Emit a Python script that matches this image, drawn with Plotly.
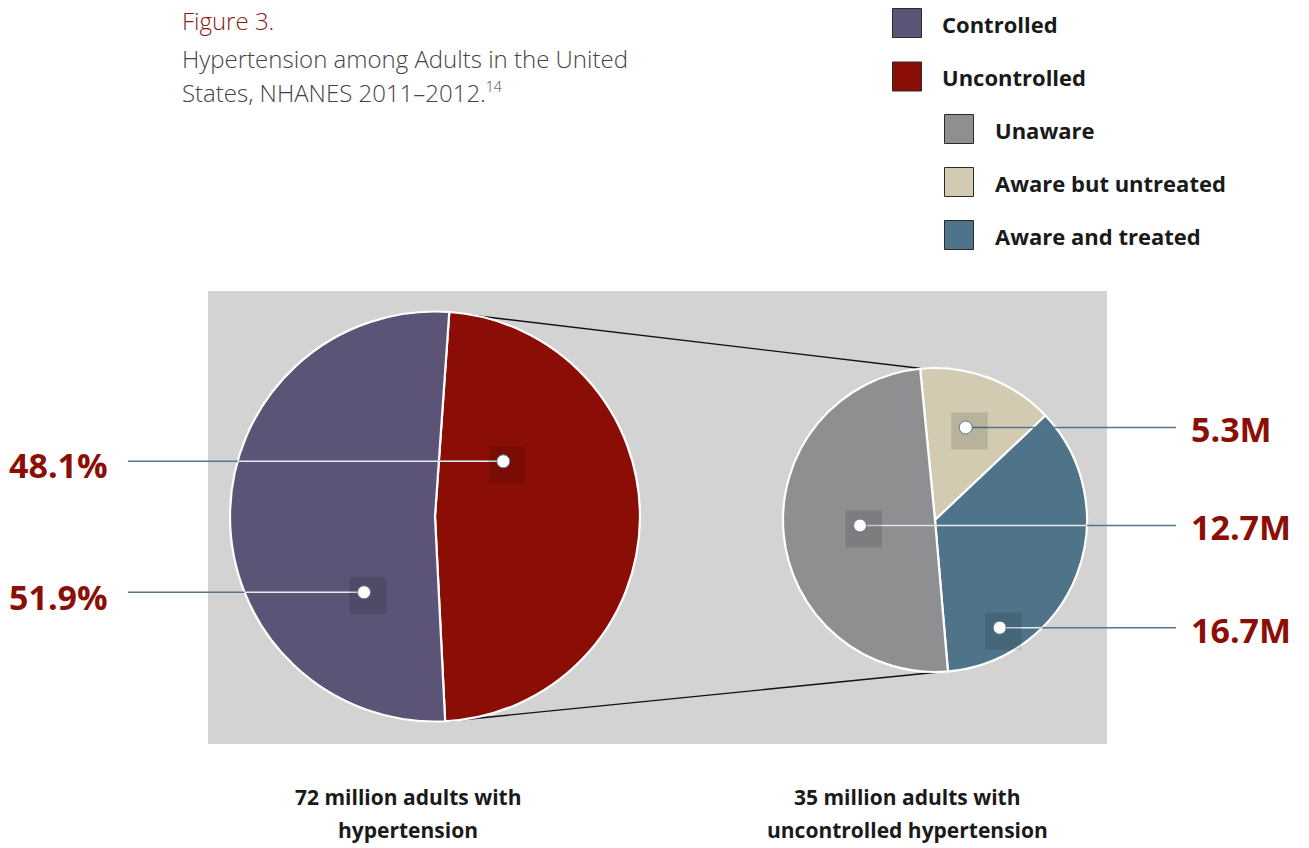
import math
import plotly.graph_objects as go

W, H = 1309, 848

# ---------------- data ----------------
main_categories = ["Uncontrolled", "Controlled"]
main_pct = [48.1, 51.9]
main_labels = ["48.1%", "51.9%"]

sub_categories = ["Aware but untreated", "Aware and treated", "Unaware"]
sub_millions = [5.3, 16.7, 12.7]
# slice sizes as they are drawn in the reference picture (percent of the circle)
sub_drawn_share = [14.5, 35.7, 49.8]

legend_items = ["Controlled", "Uncontrolled", "Unaware", "Aware but untreated", "Aware and treated"]
caption_left = ["72 million adults with", "hypertension"]
caption_right = ["35 million adults with", "uncontrolled hypertension"]
title_lines = ["Figure 3.", "Hypertension among Adults in the United",
               "States, NHANES 2011–2012.<sup><span style='font-size:14px'>14</span></sup>"]

# ---------------- styles ----------------
C_PURPLE = "#5c5477"
C_RED = "#8a0e05"
C_GREY = "#8f8e90"
C_BEIGE = "#d2cbb2"
C_BLUE = "#4f7389"
C_LEAD = "#557590"
C_LABEL = "#8b0f06"
C_BG = "#d3d3d3"
C_TEXT = "#1a1a1a"
FONT = "Open Sans"

main_colors = [C_RED, C_PURPLE]
sub_colors = [C_BEIGE, C_BLUE, C_GREY]
legend_colors = [C_PURPLE, C_RED, C_GREY, C_BEIGE, C_BLUE]


def X(px):
    return px / W


def Y(py):
    return 1 - py / H


# pie geometry (pixels)
L_CX, L_CY, L_R = 435.0, 516.5, 205.0
R_CX, R_CY, R_R = 935.0, 520.0, 152.0


def dom(cx, cy, r):
    return dict(x=[X(cx - r), X(cx + r)], y=[Y(cy + r), Y(cy - r)])


fig = go.Figure()
fig.add_trace(go.Pie(
    labels=main_categories, values=main_pct, sort=False, direction="clockwise",
    rotation=4.0, marker=dict(colors=main_colors, line=dict(color="white", width=2.2)),
    textinfo="none", hoverinfo="skip", showlegend=False, domain=dom(L_CX, L_CY, L_R),
))
fig.add_trace(go.Pie(
    labels=sub_categories, values=sub_drawn_share, sort=False, direction="clockwise",
    rotation=-5.6, marker=dict(colors=sub_colors, line=dict(color="white", width=2.2)),
    textinfo="none", hoverinfo="skip", showlegend=False, domain=dom(R_CX, R_CY, R_R),
))

shapes = []
annotations = []

# grey panel
shapes.append(dict(type="rect", xref="paper", yref="paper", x0=X(208), x1=X(1107),
                   y0=Y(744), y1=Y(291), fillcolor=C_BG, line=dict(width=0), layer="below"))
# connector lines between pies
for (x0, y0, x1, y1) in [(453, 313, 921.5, 368.5), (450, 721, 949, 671)]:
    shapes.append(dict(type="line", xref="paper", yref="paper", x0=X(x0), y0=Y(y0),
                       x1=X(x1), y1=Y(y1), line=dict(color="#111111", width=1.3), layer="below"))

# leader lines, marker squares and dots
# (dot x, dot y, line end x, pie centre x, centre y, radius, side, white-inside)
leaders = [
    (503.3, 461.3, 128, L_CX, L_CY, L_R, -1, True),
    (364.0, 592.3, 128, L_CX, L_CY, L_R, -1, True),
    (965.7, 427.5, 1176, R_CX, R_CY, R_R, 1, False),
    (860.0, 525.5, 1176, R_CX, R_CY, R_R, 1, True),
    (999.7, 627.7, 1176, R_CX, R_CY, R_R, 1, True),
]
for dx, dy, ex, cx, cy, r, side, white in leaders:
    shapes.append(dict(type="line", xref="paper", yref="paper", x0=X(dx), y0=Y(dy),
                       x1=X(ex), y1=Y(dy), line=dict(color=C_LEAD, width=1.5), layer="above"))
    if white:
        edge = cx + side * math.sqrt(max(r * r - (dy - cy) ** 2, 0))
        shapes.append(dict(type="line", xref="paper", yref="paper", x0=X(dx), y0=Y(dy),
                           x1=X(edge), y1=Y(dy), line=dict(color="rgba(255,255,255,0.85)", width=1.5),
                           layer="above"))
    shapes.append(dict(type="rect", xref="paper", yref="paper", x0=X(dx - 14.5), x1=X(dx + 22),
                       y0=Y(dy + 22), y1=Y(dy - 15), fillcolor="rgba(0,0,0,0.12)",
                       line=dict(width=0), layer="above"))
    shapes.append(dict(type="circle", xref="paper", yref="paper", x0=X(dx - 6.5), x1=X(dx + 6.5),
                       y0=Y(dy + 6.5), y1=Y(dy - 6.5), fillcolor="white",
                       line=dict(color="#5a7b92", width=1), layer="above"))

# value labels
left_rows = [465, 597]
for y, t in zip(left_rows, main_labels):
    annotations.append(dict(x=X(7), y=Y(y), xref="paper", yref="paper", text=t, showarrow=False,
                            xanchor="left", yanchor="middle",
                            font=dict(family=FONT, size=34, color=C_LABEL, weight=700)))
right_rows = [429, 630, 527]  # rows for 5.3, 16.7, 12.7
for y, v in zip(right_rows, sub_millions):
    annotations.append(dict(x=X(1189), y=Y(y), xref="paper", yref="paper", text=f"{v}M",
                            showarrow=False, xanchor="left", yanchor="middle",
                            font=dict(family=FONT, size=34, color=C_LABEL, weight=700)))

# legend
leg_rows = [(892.5, 941, 23.0), (892.5, 941, 76.5), (944.5, 994, 129.0), (944.5, 994, 182.0), (944.5, 994, 235.0)]
for (sx, tx, cy), name, col in zip(leg_rows, legend_items, legend_colors):
    shapes.append(dict(type="rect", xref="paper", yref="paper", x0=X(sx), x1=X(sx + 29),
                       y0=Y(cy + 14.5), y1=Y(cy - 14.5), fillcolor=col,
                       line=dict(color="#2a2a2a", width=1)))
    annotations.append(dict(x=X(tx - 1), y=Y(cy + 1), xref="paper", yref="paper", text=name, showarrow=False,
                            xanchor="left", yanchor="middle",
                            font=dict(family=FONT, size=22, color=C_TEXT, weight=700)))

# title
title_y = [20, 58, 92]
title_colors = ["#8b1a12", "#444444", "#444444"]
for t, y, c in zip(title_lines, title_y, title_colors):
    annotations.append(dict(x=X(180), y=Y(y), xref="paper", yref="paper", text=t, showarrow=False,
                            xanchor="left", yanchor="middle",
                            font=dict(family=FONT, size=24, color=c, weight=300)))

# captions
for cx, lines in [(408, caption_left), (907, caption_right)]:
    for y, txt in zip([797, 830], lines):
        annotations.append(dict(x=X(cx), y=Y(y), xref="paper", yref="paper", text=txt, showarrow=False,
                                xanchor="center", yanchor="middle", align="center",
                                font=dict(family=FONT, size=21, color=C_TEXT, weight=700)))

fig.update_layout(
    width=W, height=H, margin=dict(l=0, r=0, t=0, b=0),
    paper_bgcolor="white", plot_bgcolor="white",
    shapes=shapes, annotations=annotations, showlegend=False,
)

fig.write_html("out.html", config={"displayModeBar": False},
               post_script="document.body.style.margin='0px';")
